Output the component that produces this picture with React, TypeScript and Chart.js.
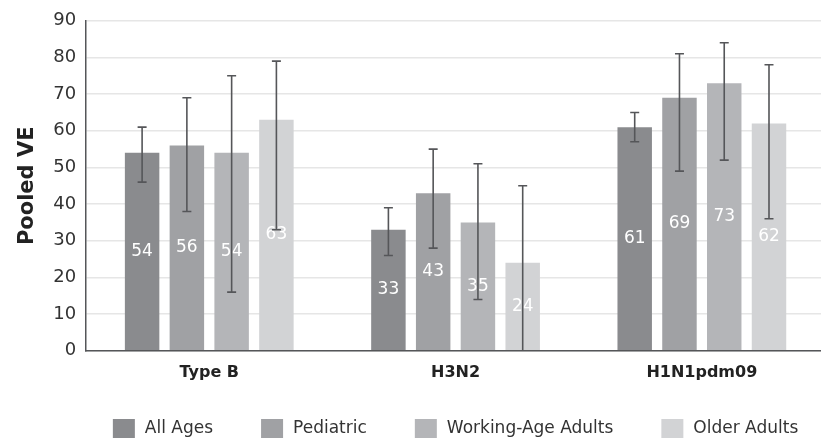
import React, { useEffect, useRef } from "react";
import { Chart, registerables } from "chart.js";

Chart.register(...registerables);

const categories = ["Type B", "H3N2", "H1N1pdm09"];
const seriesNames = ["All Ages", "Pediatric", "Working-Age Adults", "Older Adults"];
const allAges = [54, 33, 61];
const pediatric = [56, 43, 69];
const workingAge = [54, 35, 73];
const olderAdults = [63, 24, 62];
const allAgesCI = [[46, 61], [26, 39], [57, 65]];
const pediatricCI = [[38, 69], [28, 55], [49, 81]];
const workingAgeCI = [[16, 75], [14, 51], [52, 84]];
const olderAdultsCI = [[33, 79], [0, 45], [36, 78]];
const yTicks = [0, 10, 20, 30, 40, 50, 60, 70, 80, 90];

const colors = ["#8a8b8e", "#a0a1a4", "#b4b5b8", "#d2d3d5"];
const FONT = "'DejaVu Sans', sans-serif";

export default function App() {
  const ref = useRef<HTMLCanvasElement | null>(null);
  useEffect(() => {
    if (!ref.current) return;
    const seriesValues = [allAges, pediatric, workingAge, olderAdults];
    const seriesCI = [allAgesCI, pediatricCI, workingAgeCI, olderAdultsCI];

    const overlay = {
      id: "overlay",
      afterDatasetsDraw(chart: any) {
        const ctx = chart.ctx;
        const yScale = chart.scales.y;
        ctx.save();
        chart.data.datasets.forEach((ds: any, di: number) => {
          const meta = chart.getDatasetMeta(di);
          meta.data.forEach((el: any, i: number) => {
            const v = ds.data[i];
            ctx.fillStyle = "#ffffff";
            ctx.font = `17px ${FONT}`;
            ctx.textAlign = "center";
            ctx.textBaseline = "middle";
            ctx.fillText(String(v), el.x, (el.y + el.base) / 2);
          });
        });
        chart.data.datasets.forEach((ds: any, di: number) => {
          const meta = chart.getDatasetMeta(di);
          const ci = seriesCI[di];
          meta.data.forEach((el: any, i: number) => {
            const lo = yScale.getPixelForValue(ci[i][0]);
            const hi = yScale.getPixelForValue(ci[i][1]);
            ctx.strokeStyle = "#555659";
            ctx.lineWidth = 1.6;
            ctx.beginPath();
            ctx.moveTo(el.x, lo);
            ctx.lineTo(el.x, hi);
            ctx.moveTo(el.x - 4.5, hi);
            ctx.lineTo(el.x + 4.5, hi);
            if (ci[i][0] > 0) {
              ctx.moveTo(el.x - 4.5, lo);
              ctx.lineTo(el.x + 4.5, lo);
            }
            ctx.stroke();
          });
        });
        ctx.restore();
      },
      afterDraw(chart: any) {
        const ctx = chart.ctx;
        const area = chart.chartArea;
        ctx.save();
        ctx.font = `17px ${FONT}`;
        const boxW = 22;
        const boxH = 19;
        const textGap = 10;
        const itemGap = 48;
        const ds = chart.data.datasets;
        const widths = ds.map((d: any) => boxW + textGap + ctx.measureText(d.label).width);
        const total = widths.reduce((a: number, b: number) => a + b, 0) + itemGap * (ds.length - 1);
        let x = (area.left + area.right) / 2 - total / 2;
        const cy = chart.height - 10.5;
        ds.forEach((d: any, i: number) => {
          ctx.fillStyle = d.backgroundColor;
          ctx.fillRect(x, cy - boxH / 2, boxW, boxH);
          ctx.fillStyle = "#333333";
          ctx.textAlign = "left";
          ctx.textBaseline = "middle";
          ctx.fillText(d.label, x + boxW + textGap, cy);
          x += widths[i] + itemGap;
        });
        ctx.restore();
      },
    };

    const chart = new Chart(ref.current, {
      type: "bar",
      data: {
        labels: categories,
        datasets: seriesNames.map((name, i) => ({
          label: name,
          data: seriesValues[i],
          backgroundColor: colors[i],
          borderWidth: 0,
          categoryPercentage: 0.727,
          barPercentage: 0.77,
        })),
      },
      options: {
        animation: false,
        responsive: true,
        maintainAspectRatio: false,
        layout: { padding: { top: 8, left: 0, right: 0, bottom: 53 } },
        plugins: {
          tooltip: { enabled: false },
          legend: { display: false },
        },
        scales: {
          x: {
            grid: { display: false },
            border: { display: true, color: "#555659", width: 1.5 },
            ticks: {
              color: "#222222",
              padding: 4,
              font: { family: FONT, size: 16, weight: "bold" },
            },
          },
          y: {
            min: 0,
            max: 90,
            afterBuildTicks: (axis: any) => {
              axis.ticks = yTicks.map((v) => ({ value: v }));
            },
            grid: { color: "#e6e6e6", lineWidth: 1.5, drawTicks: false },
            border: { display: true, color: "#555659", width: 1.5 },
            ticks: {
              color: "#333333",
              padding: 10,
              font: { family: FONT, size: 18 },
            },
            title: {
              display: true,
              text: "Pooled VE",
              color: "#222222",
              padding: { top: 15, bottom: 3 },
              font: { family: FONT, size: 21, weight: "bold" },
            },
          },
        },
      },
      plugins: [overlay],
    });
    return () => chart.destroy();
  }, []);

  return (
    <div style={{ position: "absolute", left: 0, top: 0, width: 821, height: 439, overflow: "hidden", background: "#fff" }}>
      <div style={{ position: "relative", width: 825, height: 439 }}>
        <canvas ref={ref} />
      </div>
    </div>
  );
}
